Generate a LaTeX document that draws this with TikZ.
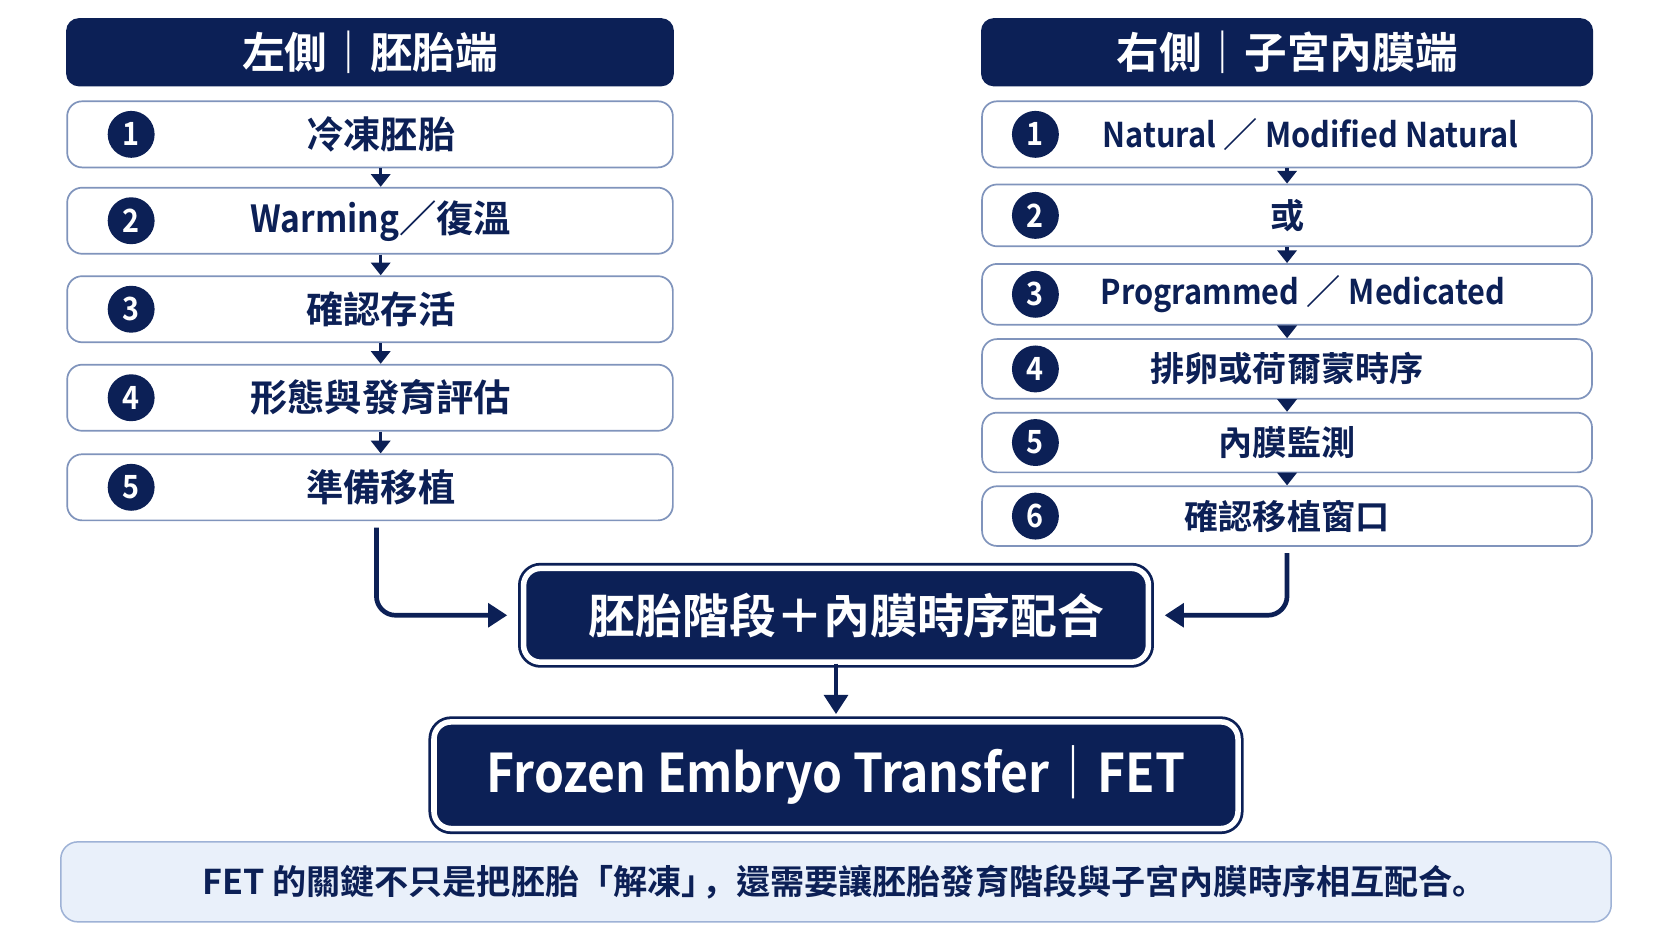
\documentclass[tikz,border=0pt]{standalone}
\usepackage{fontspec}
\setmainfont{Noto Sans CJK TC}[BoldFont={* Bold}]
\newfontfamily\lat{Noto Sans CJK TC}[BoldFont={* Bold},FakeStretch=0.9]
\newfontfamily\scp{Noto Sans CJK SC}[BoldFont={* Bold}]
\usetikzlibrary{arrows.meta}
\definecolor{navy}{RGB}{12,32,86}
\definecolor{stepline}{RGB}{128,148,188}
\definecolor{notefill}{RGB}{233,240,250}
\definecolor{noteline}{RGB}{158,178,214}
\tikzset{
	hdr/.style={rounded corners=6pt,fill=navy,text=white,minimum width=285pt,minimum height=32pt,font=\bfseries\fontsize{20}{20}\selectfont},
	stepbox/.style 2 args={rounded corners=7pt,draw=stepline,line width=0.8pt,fill=white,text=navy,minimum width=#1,minimum height=#2,font=\bfseries\fontsize{16}{16}\selectfont},
	lstep/.style={stepbox={284pt}{31pt},font=\bfseries\fontsize{17.5}{17.5}\selectfont},
	num/.style={circle,inner sep=0pt,minimum size=22pt,fill=navy,text=white,font=\lat\bfseries\fontsize{15}{15}\selectfont},
	down/.style={navy,line width=1.6pt,-{Triangle[width=9pt,length=6pt]}},
	link/.style={navy,line width=2.2pt,rounded corners=9pt,-{Triangle[width=11pt,length=9pt]}},
	bigbox/.style 2 args={rounded corners=8pt,fill=navy,draw=navy,double=white,double distance=2.6pt,line width=1.3pt,text=white,minimum width=#1,minimum height=#2},
	note/.style={rounded corners=8pt,draw=noteline,line width=0.7pt,fill=notefill,text=navy,minimum width=727pt,minimum height=37.5pt,font=\bfseries\fontsize{16}{16}\selectfont}
}
\begin{document}
\begin{tikzpicture}[x=0.5pt,y=-0.5pt]
	\useasboundingbox [fill=white] (0, 0) rectangle (1568, 882);

	% left column
	\node [hdr] (lh) at (347, 49) {左側｜胚胎端};
	\node [lstep] (l1) at (347, 126) {\hspace{10pt}冷凍胚胎};
	\node [lstep] (l2) at (347, 207) {\hspace{10pt}{\lat Warming}／復溫};
	\node [lstep] (l3) at (347, 290) {\hspace{10pt}確認存活};
	\node [lstep] (l4) at (347, 373) {\hspace{10pt}形態與發育評估};
	\node [lstep] (l5) at (347, 457) {\hspace{10pt}準備移植};
	\node [num] (ln1) at (123, 126) {1};
	\node [num] (ln2) at (123, 207) {2};
	\node [num] (ln3) at (123, 290) {3};
	\node [num] (ln4) at (123, 373) {4};
	\node [num] (ln5) at (123, 457) {5};
	\draw [down] ([xshift=5pt]l1.south) -- ([xshift=5pt]l2.north);
	\draw [down] ([xshift=5pt]l2.south) -- ([xshift=5pt]l3.north);
	\draw [down] ([xshift=5pt]l3.south) -- ([xshift=5pt]l4.north);
	\draw [down] ([xshift=5pt]l4.south) -- ([xshift=5pt]l5.north);

	% right column
	\node [hdr, minimum width=287pt] (rh) at (1207, 49) {右側｜子宮內膜端};
	\node [stepbox={286pt}{31pt}] (r1) at (1207, 126) {\hspace{22pt}{\lat Natural} ／ {\lat Modified Natural}};
	\node [stepbox={286pt}{29pt}] (r2) at (1207, 202) {或};
	\node [stepbox={286pt}{28.5pt}] (r3) at (1207, 276) {\hspace{15pt}{\lat Programmed} ／ {\lat Medicated}};
	\node [stepbox={286pt}{28pt}] (r4) at (1207, 346) {排卵或荷爾蒙時序};
	\node [stepbox={286pt}{28pt}] (r5) at (1207, 415) {內膜監測};
	\node [stepbox={286pt}{28pt}] (r6) at (1207, 484) {確認移植窗口};
	\node [num] (rn1) at (971, 126) {1};
	\node [num] (rn2) at (971, 202) {2};
	\node [num] (rn3) at (971, 276) {3};
	\node [num] (rn4) at (971, 346) {4};
	\node [num] (rn5) at (971, 415) {5};
	\node [num] (rn6) at (971, 484) {6};
	\draw [down] (r1) -- (r2);
	\draw [down] (r2) -- (r3);
	\draw [down] (r3) -- (r4);
	\draw [down] (r4) -- (r5);
	\draw [down] (r5) -- (r6);

	% merge
	\node [bigbox={293pt}{44pt}, font=\bfseries\fontsize{22}{22}\selectfont] (mid) at (784, 577) {\hspace{10pt}胚胎階段＋內膜時序配合};
	\node [bigbox={377pt}{50pt}, font=\lat\bfseries\fontsize{25}{25}\selectfont] (fet) at (784, 727) {Frozen Embryo Transfer｜FET};
	\draw [link, shorten <=3pt] ([xshift=3pt]l5.south) |- ([xshift=-7pt]mid.west);
	\draw [link, shorten <=3pt] (r6.south) |- ([xshift=7pt]mid.east);
	\draw [link, shorten >=3pt] (mid) -- (fet);

	\node [note] (cap) at (784, 827) {\hspace{8pt}FET 的關鍵不只是把胚胎「解凍」{\scp\hspace{-0.4em}，}還需要讓胚胎發育階段與子宮內膜時序相互配合{\scp 。}};
\end{tikzpicture}
\end{document}
